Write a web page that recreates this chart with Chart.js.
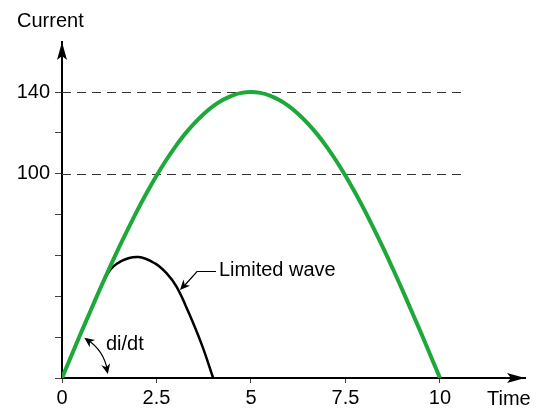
<!DOCTYPE html>
<html>
<head>
<meta charset="utf-8">
<script src="https://cdn.jsdelivr.net/npm/chart.js@4.4.1/dist/chart.umd.min.js"></script>
<style>
  html, body { margin: 0; padding: 0; background: #fff; }
  #wrap { width: 547px; height: 411px; position: relative; }
</style>
</head>
<body>
<div id="wrap"><canvas id="chart"></canvas></div>
<script>
// full wave (time, current)
const timeFull = [0, 0.25, 0.5, 0.75, 1, 1.25, 1.5, 1.75, 2, 2.25, 2.5, 2.75, 3, 3.25, 3.5, 3.75, 4, 4.25, 4.5, 4.75,
                  5, 5.25, 5.5, 5.75, 6, 6.25, 6.5, 6.75, 7, 7.25, 7.5, 7.75, 8, 8.25, 8.5, 8.75, 9, 9.25, 9.5, 9.75, 10];
const currentFull = [0, 11, 22, 32.7, 43.3, 53.6, 63.6, 73.1, 82.3, 90.9, 99, 106.5, 113.3, 119.4, 124.7, 129.3, 133.1, 136.1, 138.3, 139.6,
                     140, 139.6, 138.3, 136.1, 133.1, 129.3, 124.7, 119.4, 113.3, 106.5, 99, 90.9, 82.3, 73.1, 63.6, 53.6, 43.3, 32.7, 22, 11, 0];

// limited wave
const timeLimited = [0, 0.6, 1.22, 1.58, 2.02, 2.46, 2.77, 3.03, 3.34, 3.7, 4.0];
const currentLimited = [0, 26, 51.5, 57.3, 59.2, 56.1, 51.2, 44.7, 32.5, 16.2, 0];

const xTicks = [0, 2.5, 5, 7.5, 10];
const yTicks = [0, 20, 40, 60, 80, 100, 120, 140];
const yLabelled = [100, 140];
const refLines = [100, 140];

const FONT = 'Liberation Sans, Arial, sans-serif';

const toXY = (xs, ys) => xs.map((x, i) => ({ x: x, y: ys[i] }));

const extras = {
    id: 'extras',
    beforeDatasetsDraw(chart) {
        const { ctx, scales: { x, y } } = chart;
        ctx.save();
        ctx.strokeStyle = '#333';
        ctx.lineWidth = 1;
        ctx.setLineDash([9, 6]);
        refLines.forEach(v => {
            const py = Math.round(y.getPixelForValue(v)) + 0.5;
            ctx.beginPath();
            ctx.moveTo(x.getPixelForValue(0), py);
            ctx.lineTo(x.getPixelForValue(10.67), py);
            ctx.stroke();
        });
        ctx.restore();
    },
    afterDraw(chart) {
        const { ctx, scales: { x, y }, chartArea } = chart;
        const ox = x.getPixelForValue(0), oy = y.getPixelForValue(0);
        ctx.save();
        ctx.fillStyle = '#000';
        ctx.strokeStyle = '#000';

        // axis arrows
        ctx.beginPath();
        ctx.moveTo(ox, chartArea.top);
        ctx.lineTo(ox - 5, chartArea.top + 18);
        ctx.lineTo(ox, chartArea.top + 14);
        ctx.lineTo(ox + 5, chartArea.top + 18);
        ctx.closePath();
        ctx.fill();
        ctx.beginPath();
        ctx.moveTo(chartArea.right, oy);
        ctx.lineTo(chartArea.right - 18, oy - 5);
        ctx.lineTo(chartArea.right - 14, oy);
        ctx.lineTo(chartArea.right - 18, oy + 5);
        ctx.closePath();
        ctx.fill();

        // axis titles
        ctx.font = '20px ' + FONT;
        ctx.textBaseline = 'middle';
        ctx.textAlign = 'left';
        ctx.fillText('Current', 17, 21);
        ctx.fillText('Time', 487, 399);

        // Limited wave label
        ctx.fillText('Limited wave', 219, 270);
        ctx.lineWidth = 1.2;
        ctx.beginPath();
        ctx.moveTo(216, 271.5);
        ctx.lineTo(197, 271.5);
        ctx.lineTo(185, 285);
        ctx.stroke();
        arrowHead(ctx, 197, 271.5, 180, 290, 10, 4.5);

        // di/dt
        ctx.fillText('di/dt', 106, 344);
        const r = 46;
        const a1 = -61 * Math.PI / 180, a2 = -5 * Math.PI / 180;
        ctx.beginPath();
        ctx.arc(ox, oy, r, a1 + 0.08, a2 - 0.1);
        ctx.stroke();
        const p1 = [ox + r * Math.cos(a1), oy + r * Math.sin(a1)];
        const p2 = [ox + r * Math.cos(a2), oy + r * Math.sin(a2)];
        arrowHead(ctx, ox + r * Math.cos(a1 + 0.25), oy + r * Math.sin(a1 + 0.25), p1[0], p1[1], 10, 4.5);
        arrowHead(ctx, ox + r * Math.cos(a2 - 0.25), oy + r * Math.sin(a2 - 0.25), p2[0], p2[1], 10, 4.5);
        ctx.restore();
    }
};

function arrowHead(ctx, fx, fy, tx, ty, len, half) {
    const ang = Math.atan2(ty - fy, tx - fx);
    ctx.beginPath();
    ctx.moveTo(tx, ty);
    ctx.lineTo(tx - len * Math.cos(ang) + half * Math.sin(ang), ty - len * Math.sin(ang) - half * Math.cos(ang));
    ctx.lineTo(tx - len * 0.7 * Math.cos(ang), ty - len * 0.7 * Math.sin(ang));
    ctx.lineTo(tx - len * Math.cos(ang) - half * Math.sin(ang), ty - len * Math.sin(ang) + half * Math.cos(ang));
    ctx.closePath();
    ctx.fill();
}

new Chart(document.getElementById('chart'), {
    type: 'line',
    data: {
        datasets: [{
            label: 'Current',
            data: toXY(timeFull, currentFull),
            borderColor: '#1ea83a',
            borderWidth: 4,
            pointRadius: 0,
            tension: 0.4,
            fill: false
        }, {
            label: 'Limited wave',
            data: toXY(timeLimited, currentLimited),
            borderColor: '#000',
            borderWidth: 2.5,
            pointRadius: 0,
            tension: 0.4,
            fill: false
        }]
    },
    options: {
        responsive: true,
        maintainAspectRatio: false,
        animation: false,
        events: [],
        layout: { padding: { left: 0, right: 22, top: 42, bottom: 0 } },
        plugins: { legend: { display: false }, tooltip: { enabled: false } },
        scales: {
            x: {
                type: 'linear',
                min: 0,
                max: 12.25,
                afterBuildTicks: s => { s.ticks = xTicks.map(v => ({ value: v })); },
                afterFit: s => { s.height = 33; },
                grid: { drawOnChartArea: false, drawTicks: true, tickLength: 5, color: '#444' },
                border: { display: true, color: '#000', width: 2 },
                ticks: {
                    color: '#000',
                    padding: 3,
                    maxRotation: 0,
                    font: { family: FONT, size: 20 },
                    callback: v => String(v)
                }
            },
            y: {
                type: 'linear',
                min: 0,
                max: 164.5,
                afterBuildTicks: s => { s.ticks = yTicks.map(v => ({ value: v })); },
                afterFit: s => { s.width = 62; },
                grid: { drawOnChartArea: false, drawTicks: true, tickLength: 7, color: '#444' },
                border: { display: true, color: '#000', width: 2 },
                ticks: {
                    color: '#000',
                    padding: 5,
                    font: { family: FONT, size: 20 },
                    callback: v => yLabelled.includes(v) ? String(v) : ''
                }
            }
        }
    },
    plugins: [extras]
});
</script>
</body>
</html>
